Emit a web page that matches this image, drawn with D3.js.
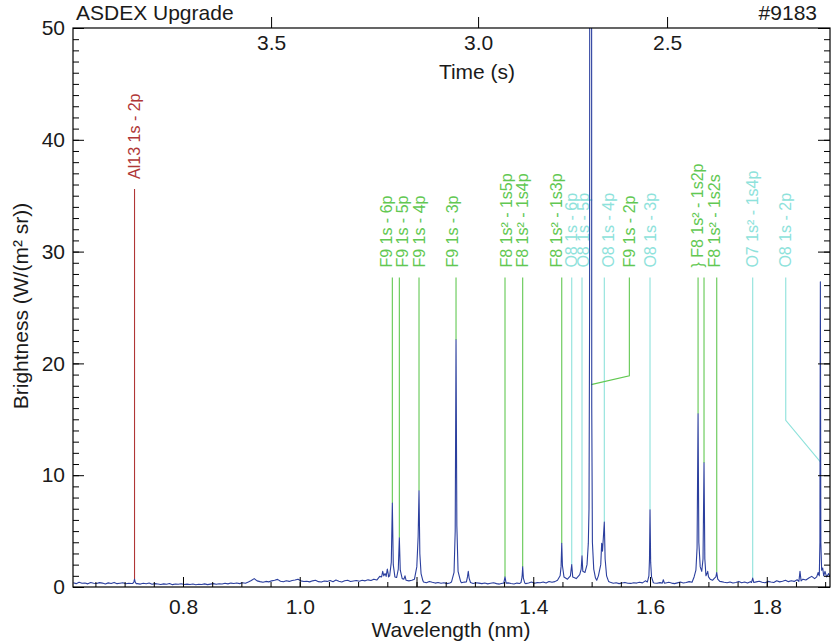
<!DOCTYPE html>
<html><head><meta charset="utf-8">
<script src="https://cdn.jsdelivr.net/npm/d3@7"></script>
<style>
body{margin:0;background:#fff}
svg{display:block}
text{font-family:"Liberation Sans",Arial,Helvetica,sans-serif}
</style>
</head><body>
<svg id="chart" width="831" height="644"></svg>
<script>
// ---------------- data ----------------
const wavelengthRange = [0.6116, 1.9083];          // nm
const brightnessRange = [0, 50];
const xTickValues = [0.8, 1.0, 1.2, 1.4, 1.6, 1.8];
const yTickValues = [0, 10, 20, 30, 40, 50];
const timeTicks = [3.5, 3.0, 2.5];                 // s (top axis)
const timeTickWavelength = [0.9509, 1.3055, 1.6292];

// baseline of the spectrum, sampled every 0.005 nm from 0.612 nm
const baselineStart = 0.612, baselineStep = 0.005;
const baselineValues = [
 0.38,0.30,0.42,0.33,0.36,0.28,0.40,0.34,0.31,0.39,0.35,0.27,0.37,0.32,0.41,0.30,0.34,0.38,0.29,0.33,
 0.31,0.36,0.30,0.26,0.33,0.29,0.35,0.24,0.30,0.27,0.22,0.28,0.25,0.31,0.21,0.27,0.24,0.29,0.23,0.26,
 0.22,0.27,0.20,0.25,0.23,0.28,0.21,0.26,0.30,0.24,0.29,0.27,0.33,0.28,0.35,0.31,0.36,0.30,0.38,0.34,
 0.45,0.58,0.75,0.55,0.48,0.42,0.50,0.46,0.55,0.60,0.68,0.52,0.47,0.56,0.50,0.58,0.62,0.70,0.55,0.49,
 0.52,0.46,0.55,0.60,0.48,0.44,0.53,0.50,0.58,0.47,0.62,0.51,0.45,0.56,0.60,0.49,0.54,0.58,0.52,0.61,
 0.55,0.64,0.58,0.70,0.62,0.95,0.80,1.20,0.90,0.85,0.75,0.70,0.95,0.80,0.65,0.55,0.60,0.52,0.70,0.62,
 0.45,0.38,0.50,0.42,0.35,0.40,0.33,0.38,0.30,0.36,0.42,0.34,0.45,0.38,0.44,0.40,0.37,0.32,0.38,0.35,
 0.30,0.36,0.28,0.33,0.38,0.30,0.26,0.34,0.29,0.37,0.31,0.27,0.35,0.32,0.40,0.30,0.36,0.44,0.34,0.39,
 0.38,0.45,0.36,0.50,0.42,0.48,0.55,0.62,0.70,0.58,0.65,0.72,0.68,0.80,0.95,1.10,0.95,1.20,0.70,0.60,
 0.55,0.45,0.40,0.35,0.42,0.33,0.38,0.30,0.36,0.41,0.34,0.32,0.38,0.35,0.42,0.37,0.55,0.48,0.40,0.36,
 0.33,0.39,0.31,0.36,0.42,0.35,0.30,0.37,0.44,0.36,0.40,0.48,0.42,0.55,0.60,0.75,0.90,1.00,0.90,0.80,
 0.65,0.55,0.48,0.42,0.38,0.45,0.36,0.41,0.50,0.38,0.44,0.35,0.48,0.40,0.46,0.52,0.42,0.38,0.50,0.44,
 0.40,0.55,0.46,0.52,0.60,0.48,0.56,0.50,0.65,0.58,0.70,0.62,0.80,0.95,0.75,1.10,0.90,1.20,1.00,1.30
];

// emission peaks: [wavelength nm, brightness W/(m^2 sr)]
const peakGroups = [
 [[0.7140,0.32],[0.7158,0.45],[0.7170,0.70],[0.7183,0.42],[0.7200,0.30]],
 [[1.1402,0.9],[1.1421,1.4],[1.1440,1.0],[1.1462,1.2],[1.1480,0.95],[1.1500,1.6],[1.1518,1.1]],
 [[1.1540,1.0],[1.1568,2.2],[1.1586,7.5],[1.1602,2.0],[1.1630,0.9],[1.1660,0.85],[1.1688,1.6],[1.1706,4.4],[1.1722,1.5],[1.1755,0.75],[1.1785,0.7],[1.1803,1.0],[1.1822,0.6]],
 [[1.1965,0.7],[1.2005,1.8],[1.2028,4.5],[1.2043,8.6],[1.2057,3.0],[1.2078,1.2],[1.2110,0.55]],
 [[1.2600,0.45],[1.2643,1.3],[1.2663,5.0],[1.2677,22.1],[1.2691,5.5],[1.2712,1.4],[1.2755,0.5]],
 [[1.2855,0.45],[1.2873,0.9],[1.2887,1.4],[1.2901,0.8],[1.2925,0.4]],
 [[1.3495,0.35],[1.3516,0.9],[1.3535,0.35]],
 [[1.3790,0.4],[1.3808,0.9],[1.3819,1.8],[1.3831,0.8],[1.3855,0.35]],
 [[1.4415,0.6],[1.4460,1.0],[1.4476,1.8],[1.4488,3.9],[1.4500,1.9],[1.4526,0.9],[1.4586,0.7],[1.4636,1.0],[1.4659,2.0],[1.4676,0.9],[1.4736,0.75],[1.4796,1.1],[1.4821,1.6],[1.4835,2.8],[1.4849,1.4],[1.4886,1.3],[1.4921,2.0],[1.4943,3.9],[1.4955,7.0],[1.4965,24],[1.4973,150],[1.4993,150],[1.5002,16],[1.5013,4.0],[1.5036,1.6],[1.5066,0.8],[1.5087,0.6],[1.5116,1.0],[1.5156,2.0],[1.5172,3.9],[1.5186,3.2],[1.5217,5.8],[1.5231,2.5],[1.5256,1.0],[1.5290,0.5]],
 [[1.5955,0.45],[1.5981,1.0],[1.5991,2.5],[1.6000,6.9],[1.6011,2.2],[1.6026,0.9],[1.6056,0.4]],
 [[1.6210,0.35],[1.6228,0.65],[1.6246,0.35]],
 [[1.6755,0.9],[1.6786,1.5],[1.6806,3.5],[1.6823,15.5],[1.6836,4.0],[1.6860,1.8],[1.6886,1.4],[1.6908,2.5],[1.6925,11.1],[1.6939,2.5],[1.6958,1.0],[1.6976,1.2],[1.6988,1.4],[1.7002,0.9],[1.7030,0.7],[1.7070,0.6],[1.7105,0.8],[1.7128,0.9],[1.7143,1.3],[1.7160,0.7],[1.7195,0.5]],
 [[1.7738,0.4],[1.7759,0.8],[1.7778,0.4]],
 [[1.8550,0.5],[1.8569,1.4],[1.8588,0.55]],
 [[1.8855,0.9],[1.8880,1.3],[1.8900,1.0],[1.8910,4.0],[1.8918,27.3],[1.8926,4.0],[1.8940,1.5],[1.8958,1.7],[1.8975,1.0],[1.8997,1.4],[1.9025,0.9],[1.9060,1.2],[1.9083,0.9]]
];

// line identifications
const annLabels = ["Al13 1s - 2p","F9 1s - 6p","F9 1s - 5p","F9 1s - 4p","F9 1s - 3p",
  "F8 1s² - 1s5p","F8 1s² - 1s4p","F8 1s² - 1s3p","O8 1s - 6p","O8 1s - 5p","O8 1s - 4p",
  "F9 1s - 2p","O8 1s - 3p","} F8 1s² - 1s2p","","F8 1s² - 1s2s","O7 1s² - 1s4p","O8 1s - 2p"];
const annIon = ["Al13","F9","F9","F9","F9","F8","F8","F8","O8","O8","O8","F9","O8","F8","F8","F8","O7","O8"];
const annWavelength = [0.7170,1.1586,1.1706,1.2043,1.2677,1.3516,1.3819,1.4488,1.4659,1.4835,1.5217,
  1.5646,1.6000,1.6823,1.6925,1.7143,1.7759,1.8325];
const annTarget = [0.7170,1.1586,1.1706,1.2043,1.2677,1.3516,1.3819,1.4488,1.4659,1.4835,1.5217,
  1.4990,1.6000,1.6823,1.6925,1.7143,1.7759,1.8918];
const annKink = [null,null,null,null,null,null,null,null,null,null,null,18.9,null,null,null,null,null,14.9];
const annEnd = [0.7,7.5,4.4,8.6,22.1,0.9,1.8,3.9,2.0,2.8,5.8,18.1,6.9,15.5,11.1,1.3,0.8,11.2];
const annLevel = [36.5,28.57,28.57,28.57,28.57,28.57,28.57,28.57,28.57,28.57,28.57,28.57,28.57,28.57,28.57,28.57,28.57,28.57];

// ---------------- layout / style ----------------
const L = 73, R = 830, T = 28, B = 587;
const annNudge = [0,-6,3,0,-4,1,0,-5,0,1,4,0,0,-1,0,-2.5,0,0];
const ionColor = {Al13:"#b03636", F9:"#62c852", F8:"#62c852", O8:"#8ee2db", O7:"#8ee2db"};
const FONT = 21;

const svg = d3.select("#chart");
const x = d3.scaleLinear().domain(wavelengthRange).range([L, R]);
const y = d3.scaleLinear().domain(brightnessRange).range([B, T]);
const tScale = d3.scaleLinear().domain(timeTicks).range(timeTickWavelength.map(x));

svg.append("defs").append("clipPath").attr("id","plotclip")
  .append("rect").attr("x",L).attr("y",T).attr("width",R-L).attr("height",B-T);

// spectrum points
const spectrum = [];
baselineValues.forEach((v,i)=>{
  const w = +(baselineStart + i*baselineStep).toFixed(4);
  if (!peakGroups.some(g => w >= g[0][0] && w <= g[g.length-1][0])) spectrum.push([w,v]);
});
peakGroups.forEach(g => g.forEach(p => spectrum.push(p)));
spectrum.sort((a,b)=>a[0]-b[0]);

// annotations
const ann = svg.append("g").attr("clip-path","url(#plotclip)");
const annText = svg.append("g");
annLabels.forEach((lab,i)=>{
  const col = ionColor[annIon[i]];
  const xl = x(annWavelength[i]);
  const pts = [[xl, y(annLevel[i]) + 10]];
  if (annKink[i] != null) pts.push([xl, y(annKink[i])]);
  pts.push([x(annTarget[i]), y(annEnd[i])]);
  ann.append("path").attr("d", d3.line()(pts))
    .attr("fill","none").attr("stroke",col).attr("stroke-width",1.1);
  if (lab) {
    annText.append("text")
      .attr("transform",`translate(${xl+annNudge[i]},${y(annLevel[i])}) rotate(-90)`)
      .attr("dy","0.35em").attr("fill",col).attr("font-size",16).text(lab);
  }
});

// spectrum line
svg.append("path").datum(spectrum)
  .attr("clip-path","url(#plotclip)")
  .attr("fill","none").attr("stroke","#2b3f9e").attr("stroke-width",1.1)
  .attr("stroke-linejoin","round")
  .attr("d", d3.line().x(d=>x(d[0])).y(d=>y(d[1])));

// axes
function styleAxis(g){
  g.select(".domain").remove();
  g.selectAll("line").attr("stroke","#000");
  g.selectAll("text").attr("font-size",FONT).attr("fill","#1a1a1a")
   .attr("font-family",'"Liberation Sans",Arial,sans-serif');
}
const minorX = d3.range(60,191,5).map(d=>d/100).filter(d=>d>=wavelengthRange[0]&&d<=wavelengthRange[1]);
svg.append("g").attr("transform",`translate(0,${B})`)
  .call(d3.axisBottom(x).tickValues(minorX).tickSize(-5).tickFormat("")).call(styleAxis);
svg.append("g").attr("transform",`translate(0,${B})`)
  .call(d3.axisBottom(x).tickValues(xTickValues).tickSize(-10).tickPadding(12).tickFormat(d3.format(".1f"))).call(styleAxis);

const minorY = d3.range(0,51,1);
svg.append("g").attr("transform",`translate(${L},0)`)
  .call(d3.axisLeft(y).tickValues(minorY).tickSize(-6).tickFormat("")).call(styleAxis);
svg.append("g").attr("transform",`translate(${L},0)`)
  .call(d3.axisLeft(y).tickValues(yTickValues).tickSize(-11).tickPadding(8).tickFormat(d3.format("d"))).call(styleAxis);
svg.append("g").attr("transform",`translate(${R},0)`)
  .call(d3.axisRight(y).tickValues(minorY).tickSize(-6).tickFormat("")).call(styleAxis);
svg.append("g").attr("transform",`translate(${R},0)`)
  .call(d3.axisRight(y).tickValues(yTickValues).tickSize(-12).tickFormat("")).call(styleAxis);

// top time axis: ticks outward, labels inside
svg.append("g").attr("transform",`translate(0,${T})`)
  .call(d3.axisBottom(tScale).tickValues(timeTicks).tickSize(-11).tickPadding(7).tickFormat(d3.format(".1f")))
  .call(styleAxis);

// frame
svg.append("rect").attr("x",L).attr("y",T).attr("width",R-L).attr("height",B-T)
  .attr("fill","none").attr("stroke","#000").attr("stroke-width",1.2);

// titles
svg.append("text").attr("x",76).attr("y",20).attr("font-size",FONT).attr("fill","#1a1a1a").text("ASDEX Upgrade");
svg.append("text").attr("x",817).attr("y",20).attr("text-anchor","end").attr("font-size",FONT).attr("fill","#1a1a1a").text("#9183");
svg.append("text").attr("x",477).attr("y",79).attr("text-anchor","middle").attr("font-size",FONT).attr("fill","#1a1a1a").text("Time (s)");
svg.append("text").attr("x",451).attr("y",637).attr("text-anchor","middle").attr("font-size",FONT).attr("fill","#1a1a1a").text("Wavelength (nm)");
svg.append("text").attr("transform","translate(28,306) rotate(-90)").attr("text-anchor","middle")
  .attr("font-size",FONT).attr("fill","#1a1a1a").text("Brightness (W/(m² sr))");
</script>
</body></html>
